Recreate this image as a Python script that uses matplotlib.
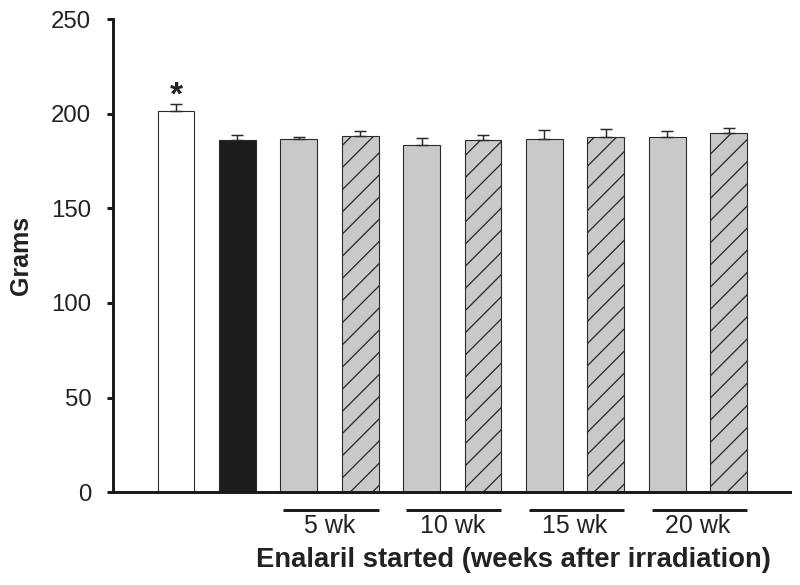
import matplotlib
matplotlib.use("Agg")
import matplotlib.pyplot as plt
import numpy as np

# ---- data ----
groups = ["Control", "Irradiated", "5 wk A", "5 wk B", "10 wk A", "10 wk B",
          "15 wk A", "15 wk B", "20 wk A", "20 wk B"]
means = [201.3, 186.0, 186.6, 188.1, 183.7, 186.2, 186.8, 187.7, 187.5, 189.7]
sems = [3.9, 2.7, 1.3, 2.7, 3.5, 2.7, 4.5, 4.1, 3.3, 2.8]
fills = ["white", "#1c1c1c", "#c9c9c9", "#c9c9c9", "#c9c9c9", "#c9c9c9",
         "#c9c9c9", "#c9c9c9", "#c9c9c9", "#c9c9c9"]
hatches = ["", "", "", "//", "", "//", "", "//", "", "//"]
week_labels = ["5 wk", "10 wk", "15 wk", "20 wk"]
week_pairs = [(2, 3), (4, 5), (6, 7), (8, 9)]
yticks = [0, 50, 100, 150, 200, 250]

plt.rcParams['font.family'] = ['Liberation Sans', 'DejaVu Sans']
plt.rcParams['hatch.linewidth'] = 0.7
plt.rcParams['hatch.color'] = '#222222'

DPI = 800 / 6.0
fig = plt.figure(figsize=(6.0, 585 / DPI), dpi=DPI)
ax = fig.add_axes([0.14125, 0.1585, 0.9875 - 0.14125, 0.9675 - 0.1585])

x = np.arange(len(means))
width = 0.6
bars = ax.bar(x, means, width=width, color=fills, edgecolor="#2a2a2a",
              linewidth=0.6, zorder=2)
for b, h in zip(bars, hatches):
    if h:
        b.set_hatch(h)

ax.errorbar(x, means, yerr=[np.zeros(len(sems)), sems], fmt="none",
            ecolor="#2a2a2a", elinewidth=0.8, capsize=3.5, capthick=0.8, zorder=3)

# significance asterisk
ax.text(x[0], means[0] + sems[0] - 4.0, "*", ha="center", va="bottom",
        fontsize=18, fontweight="bold", color="#222222")

ax.set_xlim(-1.026, 10.0)
ax.set_ylim(0, 250)
ax.set_yticks(yticks)
ax.set_yticklabels([str(t) for t in yticks])
ax.set_xticks([])

for s in ["top", "right"]:
    ax.spines[s].set_visible(False)
ax.spines["left"].set_linewidth(1.6)
ax.spines["bottom"].set_linewidth(1.6)
ax.spines["left"].set_color("#1a1a1a")
ax.spines["bottom"].set_color("#1a1a1a")
ax.tick_params(axis="y", direction="out", length=3.2, width=1.6, pad=8.5,
               labelsize=13, colors="#1a1a1a", labelcolor="#222222")

ax.set_ylabel("Grams", fontsize=13.5, fontweight="bold", color="#222222", labelpad=10)

# group underlines and labels
for (a, b), lab in zip(week_pairs, week_labels):
    x0 = x[a] - width / 2
    x1 = x[b] + width / 2
    ax.plot([x0 + 0.05, x1], [-9.4, -9.4], color="#1a1a1a", lw=1.6,
            clip_on=False, solid_capstyle="butt")
    ax.text((x0 + x1) / 2, -17.6, lab, ha="center", va="center", fontsize=13.5,
            color="#222222", clip_on=False)

ax.text((x[2] + x[9]) / 2, -36.0, "Enalaril started (weeks after irradiation)",
        ha="center", va="center", fontsize=14.8, fontweight="bold",
        color="#222222", clip_on=False)

fig.savefig("out.png", dpi=DPI)
